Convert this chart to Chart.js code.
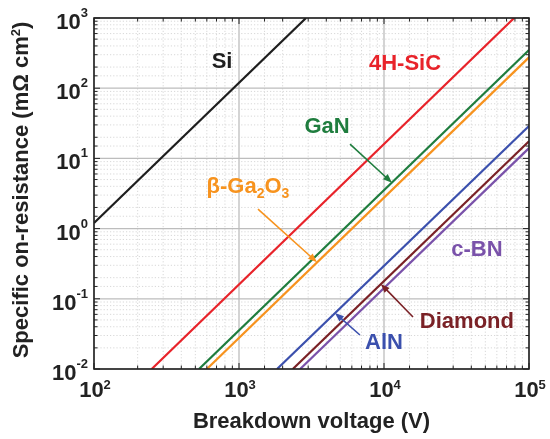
<!DOCTYPE html>
<html>
<head>
<meta charset="utf-8">
<script src="https://cdn.jsdelivr.net/npm/chart.js@4/dist/chart.umd.min.js"></script>
<style>
  html, body { margin: 0; padding: 0; background: #fff; }
  #wrap { width: 550px; height: 439px; }
</style>
</head>
<body>
<div id="wrap"><canvas id="ronChart" width="550" height="439"></canvas></div>
<script>
// ── DATA ──
const MATERIALS = ['Si', '4H-SiC', 'GaN', 'β-Ga2O3', 'AlN', 'Diamond', 'c-BN'];
const SI_V      = [100, 2900];     const SI_R      = [1.2, 1000];
const SIC_V     = [250, 79000];    const SIC_R     = [0.01, 1000];
const GAN_V     = [530, 100000];   const GAN_R     = [0.01, 350];
const GA2O3_V   = [600, 100000];   const GA2O3_R   = [0.01, 275];
const ALN_V     = [1830, 100000];  const ALN_R     = [0.01, 29];
const DIAMOND_V = [2350, 100000];  const DIAMOND_R = [0.01, 17.5];
const CBN_V     = [2640, 100000];  const CBN_R     = [0.01, 14];

const X_TICKS = [100, 1000, 10000, 100000];
const X_TICK_EXP = ['2', '3', '4', '5'];
const Y_TICKS = [0.01, 0.1, 1, 10, 100, 1000];
const Y_TICK_EXP = ['-2', '-1', '0', '1', '2', '3'];

const COLORS = ['#1e1e1e', '#e8232a', '#1f7d3e', '#f7931e', '#3b50ad', '#7a2126', '#7a52aa'];

const VOLTS = [SI_V, SIC_V, GAN_V, GA2O3_V, ALN_V, DIAMOND_V, CBN_V];
const RONS  = [SI_R, SIC_R, GAN_R, GA2O3_R, ALN_R, DIAMOND_R, CBN_R];

// label anchors and arrows, in data units
const LABELS = [
  { text: 'Si',      x: 764,   y: 236,    color: COLORS[0] },
  { text: '4H-SiC',  x: 13960, y: 221,    color: COLORS[1] },
  { text: 'GaN',     x: 4050,  y: 28,     color: COLORS[2], arrow: [5830, 16, 11350, 4.5] },
  { text: 'β-Ga',    x: 1153,  y: 3.9,    color: COLORS[3], arrow: [1352, 1.9, 3450, 0.332], ga2o3: true },
  { text: 'AlN',     x: 10000, y: 0.0234, color: COLORS[4], arrow: [6820, 0.0305, 4590, 0.0629] },
  { text: 'Diamond', x: 37300, y: 0.0468, color: COLORS[5], arrow: [15850, 0.0551, 9500, 0.163] },
  { text: 'c-BN',    x: 43750, y: 0.495,  color: COLORS[6] },
];

const FONT = '"Liberation Sans", Arial, sans-serif';

function arrow(ctx, x1, y1, x2, y2, color) {
  const a = Math.atan2(y2 - y1, x2 - x1);
  const L = 9, W = 3.5;
  ctx.save();
  ctx.strokeStyle = color;
  ctx.fillStyle = color;
  ctx.lineWidth = 1.6;
  ctx.beginPath();
  ctx.moveTo(x1, y1);
  ctx.lineTo(x2 - Math.cos(a) * L * 0.7, y2 - Math.sin(a) * L * 0.7);
  ctx.stroke();
  ctx.beginPath();
  ctx.moveTo(x2, y2);
  ctx.lineTo(x2 - L * Math.cos(a) + W * Math.sin(a), y2 - L * Math.sin(a) - W * Math.cos(a));
  ctx.lineTo(x2 - L * Math.cos(a) - W * Math.sin(a), y2 - L * Math.sin(a) + W * Math.cos(a));
  ctx.closePath();
  ctx.fill();
  ctx.restore();
}

// ── GRID (dotted minor, solid major) ──
const gridPlugin = {
  id: 'logGrid',
  beforeDatasetsDraw(chart) {
    const { ctx, chartArea: a, scales: { x, y } } = chart;
    ctx.save();
    const line = (t, isX) => {
      const major = t.major;
      ctx.strokeStyle = major ? '#bdbdbd' : '#d4d4d4';
      ctx.lineWidth = major ? 1.3 : 0.9;
      ctx.setLineDash(major ? [] : [1.2, 2]);
      ctx.beginPath();
      if (isX) {
        const p = x.getPixelForValue(t.value);
        ctx.moveTo(p, a.top); ctx.lineTo(p, a.bottom);
      } else {
        const p = y.getPixelForValue(t.value);
        ctx.moveTo(a.left, p); ctx.lineTo(a.right, p);
      }
      ctx.stroke();
    };
    x.ticks.forEach(t => line(t, true));
    y.ticks.forEach(t => line(t, false));
    ctx.restore();
  }
};

// ── FRAME, TICKS, LABELS ──
const framePlugin = {
  id: 'frame',
  afterDatasetsDraw(chart) {
    const { ctx, chartArea: a, scales: { x, y } } = chart;
    ctx.save();
    ctx.setLineDash([]);
    ctx.strokeStyle = '#222';

    // inward tick marks on all four sides
    ctx.lineWidth = 1;
    x.ticks.forEach(t => {
      const p = x.getPixelForValue(t.value);
      const len = t.major ? 6 : 3.5;
      ctx.beginPath();
      ctx.moveTo(p, a.bottom); ctx.lineTo(p, a.bottom - len);
      ctx.moveTo(p, a.top); ctx.lineTo(p, a.top + len);
      ctx.stroke();
    });
    y.ticks.forEach(t => {
      const p = y.getPixelForValue(t.value);
      const len = t.major ? 6 : 3.5;
      ctx.beginPath();
      ctx.moveTo(a.left, p); ctx.lineTo(a.left + len, p);
      ctx.moveTo(a.right, p); ctx.lineTo(a.right - len, p);
      ctx.stroke();
    });

    ctx.lineWidth = 1.6;
    ctx.strokeRect(a.left, a.top, a.right - a.left, a.bottom - a.top);

    // tick labels 10^n
    ctx.fillStyle = '#222';
    ctx.textBaseline = 'alphabetic';
    const big = 'bold 22px ' + FONT, small = 'bold 13px ' + FONT;
    X_TICKS.forEach((v, i) => {
      const p = x.getPixelForValue(v);
      ctx.font = big; const w1 = ctx.measureText('10').width;
      ctx.font = small; const w2 = ctx.measureText(X_TICK_EXP[i]).width;
      const sx = p - (w1 + w2) / 2 + 1;
      ctx.font = big; ctx.textAlign = 'left';
      ctx.fillText('10', sx, a.bottom + 28);
      ctx.font = small;
      ctx.fillText(X_TICK_EXP[i], sx + w1, a.bottom + 20);
    });
    Y_TICKS.forEach((v, i) => {
      const p = y.getPixelForValue(v);
      ctx.font = small; const w2 = ctx.measureText(Y_TICK_EXP[i]).width;
      const right = a.left - 6;
      ctx.textAlign = 'right';
      ctx.fillText(Y_TICK_EXP[i], right, p - 1);
      ctx.font = big;
      ctx.fillText('10', right - w2, p + 11);
    });

    // axis titles
    ctx.textAlign = 'center';
    ctx.font = 'bold 22px ' + FONT;
    ctx.fillText('Breakdown voltage (V)', (a.left + a.right) / 2 + 0, 428);

    ctx.save();
    ctx.translate(28, 190);
    ctx.rotate(-Math.PI / 2);
    const t1 = 'Specific on-resistance (mΩ cm', t2 = '2', t3 = ')';
    ctx.font = 'bold 22px ' + FONT; const w1 = ctx.measureText(t1).width, w3 = ctx.measureText(t3).width;
    ctx.font = 'bold 13px ' + FONT; const w2 = ctx.measureText(t2).width;
    let sx = -(w1 + w2 + w3) / 2;
    ctx.textAlign = 'left';
    ctx.font = 'bold 22px ' + FONT; ctx.fillText(t1, sx, 0);
    ctx.font = 'bold 13px ' + FONT; ctx.fillText(t2, sx + w1, -8);
    ctx.font = 'bold 22px ' + FONT; ctx.fillText(t3, sx + w1 + w2, 0);
    ctx.restore();

    // material labels and arrows
    LABELS.forEach(l => {
      const px = x.getPixelForValue(l.x), py = y.getPixelForValue(l.y);
      ctx.fillStyle = l.color;
      ctx.textBaseline = 'middle';
      if (l.ga2o3) {
        const parts = [['β-Ga', 22, 0], ['2', 14, 7], ['O', 22, 0], ['3', 14, 7]];
        let tot = 0;
        parts.forEach(q => { ctx.font = 'bold ' + q[1] + 'px ' + FONT; tot += ctx.measureText(q[0]).width; });
        let cx = px - tot / 2;
        ctx.textAlign = 'left';
        parts.forEach(q => {
          ctx.font = 'bold ' + q[1] + 'px ' + FONT;
          ctx.fillText(q[0], cx, py + q[2]);
          cx += ctx.measureText(q[0]).width;
        });
      } else {
        ctx.font = 'bold 22px ' + FONT;
        ctx.textAlign = 'center';
        ctx.fillText(l.text, px, py);
      }
      if (l.arrow) {
        const [x1, y1, x2, y2] = l.arrow;
        arrow(ctx, x.getPixelForValue(x1), y.getPixelForValue(y1),
                   x.getPixelForValue(x2), y.getPixelForValue(y2), l.color);
      }
    });
    ctx.restore();
  }
};

new Chart(document.getElementById('ronChart'), {
  type: 'scatter',
  data: {
    datasets: MATERIALS.map((name, i) => ({
      label: name,
      data: VOLTS[i].map((v, j) => ({ x: v, y: RONS[i][j] })),
      showLine: true,
      borderColor: COLORS[i],
      backgroundColor: COLORS[i],
      borderWidth: 2.2,
      pointRadius: 0,
      tension: 0,
    }))
  },
  options: {
    responsive: false,
    animation: false,
    layout: { padding: { left: 0, right: 21, top: 18, bottom: 0 } },
    plugins: { legend: { display: false }, tooltip: { enabled: false } },
    scales: {
      x: {
        type: 'logarithmic', min: 100, max: 100000,
        ticks: { display: false },
        grid: { display: false },
        border: { display: false },
        afterFit: s => { s.height = 70; }
      },
      y: {
        type: 'logarithmic', min: 0.01, max: 1000,
        ticks: { display: false },
        grid: { display: false },
        border: { display: false },
        afterFit: s => { s.width = 94; }
      }
    }
  },
  plugins: [gridPlugin, framePlugin]
});
</script>
</body>
</html>
